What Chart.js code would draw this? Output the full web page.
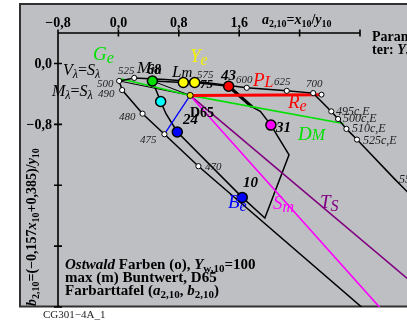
<!DOCTYPE html>
<html>
<head>
<meta charset="utf-8">
<script src="https://cdn.jsdelivr.net/npm/chart.js@4.4.0/dist/chart.umd.min.js"></script>
<style>
  html, body { margin: 0; padding: 0; background: #fff; overflow: hidden; }
  canvas { display: block; }
</style>
</head>
<body>
<canvas id="cg" width="407" height="324"></canvas>
<script>
// Achsen
const xTicks = [-0.8, 0, 0.8, 1.6, 2.4, 3.2];
const xTickLabels = ['−0,8', '0,0', '0,8', '1,6', '', ''];
const yTicks = [0, -0.8, -1.6, -2.4, -3.2];
const yTickLabels = ['0,0', '−0,8', '', '', ''];

// Spektralzug (nm), c,E = kompensativ; marked = weisser Punkt
const spectralNames = ['', '470', '475', '480', '490', '500', '525', '550', '575', '600', '625', '700', '495c,E', '500c,E', '510c,E', '525c,E', '550c,E', ''];
const spectralX = [3.36, 1.06, 0.61, 0.32, 0.05, 0.01, 0.21, 0.62, 1.15, 1.70, 2.23, 2.58, 2.82, 2.91, 3.02, 3.16, 3.66, 4.00];
const spectralY = [-3.32, -1.35, -0.93, -0.66, -0.35, -0.23, -0.19, -0.21, -0.25, -0.32, -0.36, -0.39, -0.63, -0.73, -0.86, -1.00, -1.52, -1.86];
const spectralMarked = [0, 1, 1, 1, 1, 1, 1, 0, 0, 1, 1, 1, 1, 1, 1, 1, 1, 0];

// max (m) Buntwert, Farbzug
const maxX = [0.45, 0.56, 0.63, 0.78, 1.64, 1.94, 2.26, 2.02, 1.88, 1.77, 1.46, 1.01, 0.86, 0.45];
const maxY = [-0.23, -0.50, -0.66, -0.90, -1.76, -2.03, -1.20, -0.81, -0.63, -0.57, -0.30, -0.25, -0.25, -0.23];

// Farbmuster (Kreise)
const sampleNames = ['Ge', 'Y1', 'Ye', '43', 'C', '24', '31', '10'];
const sampleX = [0.45, 0.86, 1.01, 1.46, 0.56, 0.78, 2.02, 1.64];
const sampleY = [-0.23, -0.25, -0.25, -0.30, -0.50, -0.90, -0.81, -1.76];
const sampleColors = ['#00dd00', '#ffff00', '#ffff00', '#ff0000', '#00ffff', '#0000ff', '#ff00ff', '#0000ff'];

// Unbuntpunkt D65 und Linien
const d65 = [0.95, -0.42];
const redEnd = [2.69, -0.41];
const greenStart = [0.03, -0.20];
const greenEnd = [2.98, -0.79];
const blueEnd = [0.61, -0.93];
const magentaEnd = [3.61, -3.37];
const purpleEnd = [4.13, -3.08];
const greyStarts = [[0.01, -0.23], [0.45, -0.23]];

const SERIF = '"Liberation Serif", "Times New Roman", serif';
const pt = (a) => ({x: a[0], y: a[1]});
const zip = (xs, ys) => xs.map((x, i) => ({x: x, y: ys[i]}));

function rich(ctx, x, y, parts) {
    let cx = x;
    parts.forEach(p => {
        ctx.font = p.f;
        ctx.fillStyle = p.c || '#000';
        ctx.fillText(p.t, cx, y + (p.dy || 0));
        cx += ctx.measureText(p.t).width + (p.sp || 0);
    });
}

const frame = {
    id: 'frame',
    beforeDraw(chart) {
        const ctx = chart.ctx;
        ctx.save();
        ctx.fillStyle = '#ffffff';
        ctx.fillRect(0, 0, chart.width, chart.height);
        ctx.fillStyle = 'rgb(190,191,195)';
        ctx.fillRect(20, 4, 400, 303);
        ctx.strokeStyle = '#303030';
        ctx.lineWidth = 2;
        ctx.beginPath();
        ctx.moveTo(420, 4); ctx.lineTo(20, 4); ctx.lineTo(20, 306.5); ctx.lineTo(420, 306.5);
        ctx.stroke();

        // Achsen oben und links
        const xs = chart.scales.x, ys = chart.scales.y, a = chart.chartArea;
        ctx.strokeStyle = '#000';
        ctx.lineWidth = 1.6;
        ctx.beginPath();
        ctx.moveTo(a.left, a.top); ctx.lineTo(xs.getPixelForValue(3.2), a.top);
        ctx.moveTo(a.left, a.top); ctx.lineTo(a.left, a.bottom);
        xTicks.forEach(t => {
            const px = xs.getPixelForValue(t);
            ctx.moveTo(px, a.top - 3.5); ctx.lineTo(px, a.top + 3.5);
        });
        yTicks.forEach(t => {
            const py = ys.getPixelForValue(t);
            ctx.moveTo(a.left - 4, py); ctx.lineTo(a.left + 4, py);
        });
        ctx.stroke();

        ctx.fillStyle = '#000';
        ctx.font = 'bold 14px ' + SERIF;
        ctx.textAlign = 'center';
        ctx.textBaseline = 'alphabetic';
        xTicks.forEach((t, i) => {
            if (xTickLabels[i]) ctx.fillText(xTickLabels[i], xs.getPixelForValue(t), 27);
        });
        ctx.textAlign = 'right';
        ctx.textBaseline = 'middle';
        yTicks.forEach((t, i) => {
            if (yTickLabels[i]) ctx.fillText(yTickLabels[i], 52, ys.getPixelForValue(t) + 1);
        });
        ctx.textAlign = 'left';
        ctx.textBaseline = 'alphabetic';

        // Achsentitel
        const B = 'bold 14px ' + SERIF, BI = 'bold italic 14px ' + SERIF, BS = 'bold 10px ' + SERIF;
        rich(ctx, 262, 24, [
            {t: 'a', f: BI}, {t: '2,10', f: BS, dy: 3}, {t: '=', f: B}, {t: 'x', f: BI},
            {t: '10', f: BS, dy: 3}, {t: '/', f: B}, {t: 'y', f: BI}, {t: '10', f: BS, dy: 3}
        ]);
        ctx.save();
        ctx.translate(36, 306);
        ctx.rotate(-Math.PI / 2);
        rich(ctx, 0, 0, [
            {t: 'b', f: BI}, {t: '2,10', f: BS, dy: 3}, {t: '=(−0,157', f: B}, {t: 'x', f: BI},
            {t: '10', f: BS, dy: 3}, {t: '+0,385)/', f: B}, {t: 'y', f: BI}, {t: '10', f: BS, dy: 3}
        ]);
        ctx.restore();
        ctx.restore();
    },
    afterDraw(chart) {
        const ctx = chart.ctx;
        ctx.save();
        ctx.textBaseline = 'alphabetic';
        ctx.textAlign = 'left';
        const B = 'bold 15px ' + SERIF, BI = 'bold italic 15px ' + SERIF, BS = 'bold 11px ' + SERIF;
        const I = (s) => 'italic ' + s + 'px ' + SERIF;
        const BIs = (s) => 'bold italic ' + s + 'px ' + SERIF;

        // Parameter
        rich(ctx, 372, 41, [{t: 'Parame-', f: 'bold 14px ' + SERIF}]);
        rich(ctx, 372, 54, [{t: 'ter: ', f: 'bold 14px ' + SERIF}, {t: 'Y', f: 'bold italic 14px ' + SERIF},
            {t: 'w,10', f: 'bold 10px ' + SERIF, dy: 3}]);

        // Textblock unten
        rich(ctx, 65, 269, [{t: 'Ostwald', f: BI}, {t: ' Farben (o), ', f: B}, {t: 'Y', f: BI},
            {t: 'w,10', f: BS, dy: 3}, {t: '=100', f: B}]);
        rich(ctx, 65, 282, [{t: 'max (m) Buntwert, D65', f: B}]);
        rich(ctx, 65, 295, [{t: 'Farbarttafel (', f: B}, {t: 'a', f: BI}, {t: '2,10', f: BS, dy: 3},
            {t: ', ', f: B}, {t: 'b', f: BI}, {t: '2,10', f: BS, dy: 3}, {t: ')', f: B}]);
        rich(ctx, 43, 318, [{t: 'CG301−4A_1', f: '11px ' + SERIF, c: '#222'}]);

        // Spektralbezeichnungen
        const sp = (t, x, y, s) => rich(ctx, x, y, [{t: t, f: I(s || 11), c: '#222'}]);
        sp('525', 118, 74); sp('500', 97, 87); sp('490', 98, 97); sp('480', 119, 120);
        sp('475', 140, 143); sp('470', 205, 170); sp('575', 197, 78); sp('600', 236, 83);
        sp('625', 274, 85); sp('700', 306, 87);
        sp('495c,E', 336, 115, 12); sp('500c,E', 343, 122, 12); sp('510c,E', 352, 132, 12);
        sp('525c,E', 363, 144, 12); sp('550c,E', 399, 183, 12);

        // Vλ=Sλ, Mλ=Sλ
        const L = I(16), Ls = I(12);
        rich(ctx, 63, 75, [{t: 'V', f: L}, {t: 'λ', f: Ls, dy: 3}, {t: '=', f: '16px ' + SERIF}, {t: 'S', f: L}, {t: 'λ', f: Ls, dy: 3}]);
        rich(ctx, 52, 96, [{t: 'M', f: L}, {t: 'λ', f: Ls, dy: 3}, {t: '=', f: '16px ' + SERIF}, {t: 'S', f: L}, {t: 'λ', f: Ls, dy: 3}]);

        // Nummern
        const num = (t, x, y) => rich(ctx, x, y, [{t: t, f: BIs(15)}]);
        num('43', 221, 80); num('24', 183, 124); num('31', 276, 132); num('10', 243, 187);
        rich(ctx, 200, 88, [{t: '75', f: BIs(13)}]);
        rich(ctx, 137, 73, [{t: 'M', f: I(17)}]);
        rich(ctx, 147, 74, [{t: '68', f: BIs(14)}]);
        rich(ctx, 151, 74, [{t: 'm', f: I(15)}]);
        rich(ctx, 172, 77, [{t: 'L', f: I(17)}, {t: 'm', f: I(15)}]);
        rich(ctx, 190, 117, [{t: 'D65', f: 'bold 14px ' + SERIF}]);

        // farbige Bezeichnungen
        const big = (a, b, x, y, c, dy) => rich(ctx, x, y, [{t: a, f: I(19), c: c}, {t: b, f: I(16), c: c, dy: dy}]);
        big('G', 'e', 93, 60, '#00e000', 3);
        big('Y', 'e', 190, 62, '#f2f200', 3);
        big('P', 'L', 253, 86, '#ff0000', 1);
        big('R', 'e', 288, 108, '#ff0000', 3);
        big('D', 'M', 298, 140, '#00e000', 0);
        big('B', 'e', 228, 208, '#0000ff', 3);
        big('S', 'm', 273, 209, '#ff00ff', 3);
        big('T', 'S', 320, 208, '#800080', 3);
        ctx.restore();
    }
};

const clipArea = {left: 60, top: 30, right: 60, bottom: 0};
const lineDs = (data, color, width, order) => ({
    data: data, showLine: true, borderColor: color, borderWidth: width,
    pointRadius: 0, fill: false, order: order, clip: clipArea
});

const datasets = [
    // Farbmuster oben
    {
        data: zip(sampleX, sampleY), showLine: false, pointRadius: 5, pointBorderWidth: 1.5,
        pointBorderColor: '#000', pointBackgroundColor: sampleColors, order: 0, clip: clipArea
    },
    {
        data: [pt(d65), pt(redEnd)], showLine: false, pointRadius: [3, 2.5], pointBorderWidth: 1,
        pointBorderColor: '#000', pointBackgroundColor: ['#e6e600', '#ffffff'], order: 1, clip: clipArea
    },
    lineDs([pt(d65), pt(redEnd)], '#ff0000', 3, 3),
    lineDs([pt(greenStart), pt(d65), pt(greenEnd)], '#00e000', 1.6, 4),
    lineDs([pt(d65), pt(blueEnd)], '#0000ff', 1.3, 4),
    lineDs([pt(d65), pt(magentaEnd)], '#ff00ff', 1.6, 4),
    lineDs([pt(d65), pt(purpleEnd)], '#800080', 1.6, 4),
    Object.assign(lineDs(zip(maxX, maxY), '#000', 1.5, 5), {
        segment: { borderWidth: c => c.p0DataIndex === 9 ? 3.2 : undefined }
    }),
    lineDs([pt(greyStarts[0]), pt(d65)], '#000', 1, 6),
    lineDs([pt(greyStarts[1]), pt(d65)], '#000', 1, 6),
    Object.assign(lineDs(zip(spectralX, spectralY), '#000', 1.5, 2), {
        pointRadius: spectralMarked.map(m => m ? 2.6 : 0),
        pointBackgroundColor: '#ffffff', pointBorderColor: '#000', pointBorderWidth: 1
    })
];

new Chart(document.getElementById('cg').getContext('2d'), {
    type: 'scatter',
    data: { datasets: datasets },
    options: {
        responsive: false,
        animation: false,
        devicePixelRatio: 1,
        layout: { padding: { left: 58, top: 33, right: 47, bottom: 17 } },
        scales: {
            x: { type: 'linear', min: -0.8, max: 3.2, display: false },
            y: { type: 'linear', min: -3.2, max: 0.4, display: false }
        },
        elements: { line: { tension: 0 } },
        plugins: { legend: { display: false }, tooltip: { enabled: false } }
    },
    plugins: [frame]
});
</script>
</body>
</html>
